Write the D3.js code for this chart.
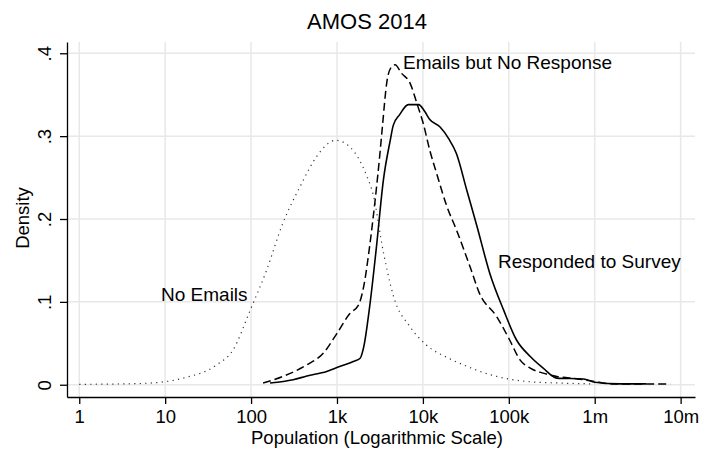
<!DOCTYPE html>
<html>
<head>
<meta charset="utf-8">
<script src="https://cdn.jsdelivr.net/npm/d3@7"></script>
<style>
  body { margin: 0; background: #fff; }
  text { font-family: "Liberation Sans", Arial, sans-serif; fill: #000; }
</style>
</head>
<body>
<script>
// Chart size
var svgWidth = 703;
var svgHeight = 455;

// Tick values and labels
var xTicks = [1, 10, 100, 1000, 1e4, 1e5, 1e6, 1e7];
var xTickLabels = ["1", "10", "100", "1k", "10k", "100k", "1m", "10m"];
var yTicks = [0, 0.1, 0.2, 0.3, 0.4];
var yTickLabels = ["0", ".1", ".2", ".3", ".4"];

// Series: log10(population) and density
var noEmailsLog = [0, 0.5, 0.825, 1.21, 1.6, 1.79, 1.99, 2.18, 2.37, 2.57, 2.76, 2.985, 3.15, 3.35, 3.42, 3.54, 3.66, 3.85, 4.04, 4.3, 4.47, 4.86, 5.2, 5.6, 6.0];
var noEmailsDensity = [0.0005, 0.001, 0.002, 0.008, 0.024, 0.042, 0.09, 0.138, 0.195, 0.239, 0.275, 0.295, 0.287, 0.251, 0.23, 0.16, 0.106, 0.07, 0.048, 0.032, 0.024, 0.01, 0.004, 0.002, 0.001];

var noResponseLog = [2.14, 2.37, 2.65, 2.84, 3.0, 3.15, 3.25, 3.31, 3.38, 3.44, 3.5, 3.53, 3.58, 3.63, 3.676, 3.75, 3.85, 3.935, 4.005, 4.08, 4.16, 4.28, 4.39, 4.55, 4.66, 4.86, 5.01, 5.13, 5.25, 5.4, 5.56, 5.8, 6.0, 6.2, 6.88];
var noResponseDensity = [0.002, 0.01, 0.024, 0.038, 0.062, 0.086, 0.096, 0.118, 0.167, 0.219, 0.279, 0.313, 0.365, 0.383, 0.386, 0.376, 0.364, 0.338, 0.315, 0.283, 0.255, 0.215, 0.187, 0.142, 0.11, 0.082, 0.054, 0.03, 0.02, 0.014, 0.01, 0.007, 0.004, 0.001, 0.001];

var respondedLog = [2.22, 2.49, 2.65, 2.88, 3.03, 3.19, 3.27, 3.31, 3.38, 3.46, 3.54, 3.62, 3.655, 3.73, 3.83, 3.95, 4.02, 4.08, 4.2, 4.3, 4.39, 4.51, 4.63, 4.78, 4.94, 5.09, 5.25, 5.4, 5.56, 5.87, 6.0, 6.3, 6.6];
var respondedDensity = [0.002, 0.006, 0.0105, 0.016, 0.022, 0.028, 0.032, 0.045, 0.094, 0.167, 0.247, 0.295, 0.313, 0.326, 0.338, 0.338, 0.33, 0.32, 0.311, 0.297, 0.279, 0.235, 0.191, 0.134, 0.09, 0.054, 0.034, 0.02, 0.008, 0.007, 0.003, 0.001, 0.001];

// Line labels
var seriesLabels = ["No Emails", "Emails but No Response", "Responded to Survey"];

var svg = d3.select("body")
  .append("svg")
  .attr("width", svgWidth)
  .attr("height", svgHeight);

// Scales (plot region 67..695 by 42..397)
var x = d3.scaleLog()
  .domain([0.72, 14.7e6])
  .range([67, 695]);

var y = d3.scaleLinear()
  .domain([-0.0148, 0.4136])
  .range([397, 42]);

// Gridlines
svg.append("g")
  .selectAll("line")
  .data(yTicks)
  .enter()
  .append("line")
  .attr("x1", 67).attr("x2", 695)
  .attr("y1", d => y(d)).attr("y2", d => y(d))
  .style("stroke", "#e8e8e8")
  .style("stroke-width", 1.5);

svg.append("g")
  .selectAll("line")
  .data(xTicks)
  .enter()
  .append("line")
  .attr("x1", d => x(d)).attr("x2", d => x(d))
  .attr("y1", 42).attr("y2", 397)
  .style("stroke", "#e8e8e8")
  .style("stroke-width", 1.5);

// X axis
var xAxis = svg.append("g")
  .attr("transform", "translate(0,397)")
  .call(d3.axisBottom(x)
    .tickValues(xTicks)
    .tickFormat((d, i) => xTickLabels[i])
    .tickSize(7)
    .tickSizeOuter(0));

// Y axis
var yAxis = svg.append("g")
  .attr("transform", "translate(67,0)")
  .call(d3.axisLeft(y)
    .tickValues(yTicks)
    .tickFormat((d, i) => yTickLabels[i])
    .tickSize(7)
    .tickSizeOuter(0));

[xAxis, yAxis].forEach(function(a) {
  a.select(".domain").style("stroke", "#000").style("stroke-width", 1.3);
  a.selectAll(".tick line").style("stroke", "#000").style("stroke-width", 1.3);
});

xAxis.selectAll(".tick text")
  .style("font-size", "18.5px")
  .style("font-family", "'Liberation Sans', Arial, sans-serif")
  .attr("y", 26)
  .attr("dy", null);

// rotate the y tick labels like Stata does
yAxis.selectAll(".tick text")
  .attr("x", null)
  .attr("dy", null)
  .attr("transform", "translate(-16,0) rotate(-90)")
  .attr("text-anchor", "middle")
  .style("font-size", "18.5px")
  .style("font-family", "'Liberation Sans', Arial, sans-serif");

// Lines
var line = d3.line()
  .x(d => x(Math.pow(10, d[0])))
  .y(d => y(d[1]))
  .curve(d3.curveMonotoneX);

var noEmails = noEmailsLog.map((v, i) => [v, noEmailsDensity[i]]);
var noResponse = noResponseLog.map((v, i) => [v, noResponseDensity[i]]);
var responded = respondedLog.map((v, i) => [v, respondedDensity[i]]);

svg.append("path")
  .datum(noEmails)
  .attr("d", line)
  .style("fill", "none")
  .style("stroke", "#333")
  .style("stroke-width", 1.2)
  .style("stroke-dasharray", "1.2,4.3");

svg.append("path")
  .datum(noResponse)
  .attr("d", line)
  .style("fill", "none")
  .style("stroke", "#000")
  .style("stroke-width", 1.5)
  .style("stroke-dasharray", "8,4");

svg.append("path")
  .datum(responded)
  .attr("d", line)
  .style("fill", "none")
  .style("stroke", "#000")
  .style("stroke-width", 1.6);

// Labels on the lines
svg.append("text").attr("x", 161).attr("y", 301).style("font-size", "19px").text(seriesLabels[0]);
svg.append("text").attr("x", 403).attr("y", 69).style("font-size", "19px").text(seriesLabels[1]);
svg.append("text").attr("x", 498).attr("y", 268).style("font-size", "19px").text(seriesLabels[2]);

// Title
svg.append("text")
  .attr("x", 367)
  .attr("y", 29)
  .attr("text-anchor", "middle")
  .style("font-size", "22px")
  .text("AMOS 2014");

// text label for the x axis
svg.append("text")
  .attr("x", 377)
  .attr("y", 444)
  .attr("text-anchor", "middle")
  .style("font-size", "18.5px")
  .text("Population (Logarithmic Scale)");

// text label for the y axis
svg.append("text")
  .attr("transform", "translate(29,218) rotate(-90)")
  .attr("text-anchor", "middle")
  .style("font-size", "18.5px")
  .text("Density");
</script>
</body>
</html>
